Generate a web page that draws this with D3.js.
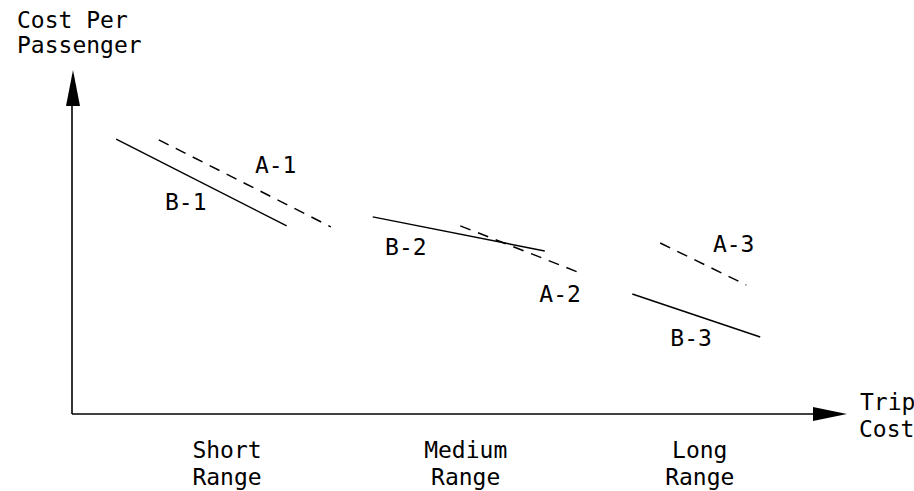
<!DOCTYPE html>
<html>
<head>
<meta charset="utf-8">
<script src="https://cdn.jsdelivr.net/npm/d3@7"></script>
<style>
  html, body { margin: 0; padding: 0; background: #fff; }
  svg { display: block; }
  text { font-family: "DejaVu Sans Mono", monospace; font-size: 23px; fill: #000; }
</style>
</head>
<body>
<svg id="chart" width="914" height="491"></svg>
<script>
// ---- data (abstract units: trip cost 0..10, cost per passenger 0..10) ----
const seriesNames = ["B-1", "A-1", "B-2", "A-2", "A-3", "B-3"];
const seriesDashed = [false, true, false, true, true, false];
const seriesX1 = [0.57, 1.12, 3.88, 5.01, 7.59, 7.23];
const seriesY1 = [7.99, 7.97, 5.73, 5.47, 4.97, 3.49];
const seriesX2 = [2.77, 3.34, 6.10, 6.59, 8.70, 8.88];
const seriesY2 = [5.47, 5.44, 4.74, 4.07, 3.75, 2.24];
// label anchors (data units)
const labelX = [1.20, 2.36, 4.04, 6.03, 8.27, 7.72];
const labelY = [5.93, 7.00, 4.62, 3.26, 4.71, 1.99];

const categories = ["Short Range", "Medium Range", "Long Range"];
const categoryX = [2.00, 5.08, 8.10];

const yTitle = ["Cost Per", "Passenger"];
const xTitle = ["Trip", "Cost"];

// ---- layout ----
const svg = d3.select("#chart");
const x = d3.scaleLinear().domain([0, 10]).range([72, 847]);
const y = d3.scaleLinear().domain([0, 10]).range([414, 70]);

// axes
const axisG = svg.append("g");
axisG.append("line")
  .attr("x1", x(0)).attr("y1", y(0)).attr("x2", x(10) - 30).attr("y2", y(0))
  .attr("stroke", "#000").attr("stroke-width", 1.6);
axisG.append("line")
  .attr("x1", x(0)).attr("y1", y(0)).attr("x2", x(0)).attr("y2", y(10) + 30)
  .attr("stroke", "#000").attr("stroke-width", 1.6);
// arrowheads
axisG.append("path")
  .attr("d", `M${x(10)},${y(0)} L${x(10) - 34},${y(0) - 7} L${x(10) - 34},${y(0) + 7} Z`)
  .attr("fill", "#000");
axisG.append("path")
  .attr("d", `M${x(0) + 1},${y(10)} L${x(0) - 6},${y(10) + 36} L${x(0) + 8},${y(10) + 36} Z`)
  .attr("fill", "#000");

// axis titles
svg.append("text").attr("x", 17).attr("y", 28).text(yTitle[0]);
svg.append("text").attr("x", 17).attr("y", 53).text(yTitle[1]);
svg.append("text").attr("x", 860).attr("y", 410).text(xTitle[0]);
svg.append("text").attr("x", 859).attr("y", 437).text(xTitle[1]);

// category labels
categories.forEach((c, i) => {
  const parts = c.split(" ");
  const t = svg.append("text").attr("text-anchor", "middle");
  parts.forEach((p, j) => {
    t.append("tspan").attr("x", x(categoryX[i])).attr("y", 458 + j * 27).text(p);
  });
});

// series lines
seriesNames.forEach((name, i) => {
  svg.append("line")
    .attr("x1", x(seriesX1[i])).attr("y1", y(seriesY1[i]))
    .attr("x2", x(seriesX2[i])).attr("y2", y(seriesY2[i]))
    .attr("stroke", "#000").attr("stroke-width", 1.5)
    .attr("stroke-dasharray", seriesDashed[i] ? "11,8" : null);
  svg.append("text")
    .attr("x", x(labelX[i])).attr("y", y(labelY[i]))
    .text(name);
});
</script>
</body>
</html>
